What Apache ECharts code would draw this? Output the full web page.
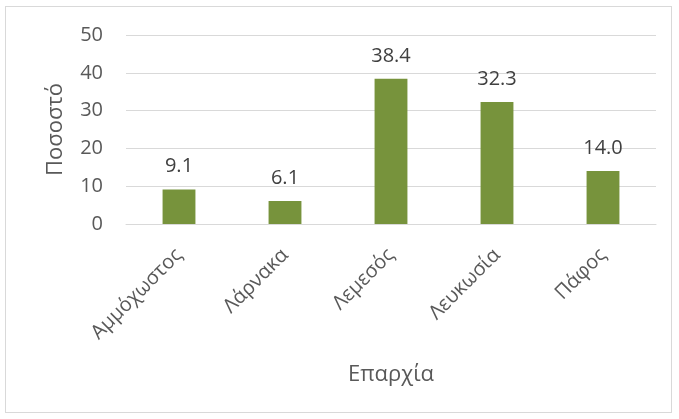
<!DOCTYPE html>
<html>
<head>
<meta charset="utf-8">
<script src="https://cdn.jsdelivr.net/npm/echarts@6/dist/echarts.min.js"></script>
<style>
  html, body { margin: 0; padding: 0; background: #fff; }
  #frame { position: absolute; left: 5px; top: 6px; width: 667px; height: 407px; border: 1px solid #d9d9d9; box-sizing: border-box; }
  #chart { width: 679px; height: 419px; position: absolute; left: 0; top: 0; }
</style>
</head>
<body>
<div id="frame"></div>
<div id="chart"></div>
<script>
// Districts and their share (%)
const categories = ['Αμμόχωστος', 'Λάρνακα', 'Λεμεσός', 'Λευκωσία', 'Πάφος'];
const values = [9.1, 6.1, 38.4, 32.3, 14.0];
const yTicks = [0, 10, 20, 30, 40, 50];

const FONT = '"Open Sans", "Noto Sans", sans-serif';
const chart = echarts.init(document.getElementById('chart'), null, { renderer: 'canvas' });

chart.setOption({
  animation: false,
  textStyle: { fontFamily: FONT },
  grid: { left: 126, right: 23, top: 35, bottom: 195, containLabel: false },
  xAxis: {
    type: 'category',
    data: categories,
    name: 'Επαρχία',
    nameLocation: 'middle',
    nameGap: 140,
    nameTextStyle: { color: '#595959', fontSize: 22, fontFamily: FONT },
    axisLine: { show: true, lineStyle: { color: '#d9d9d9', width: 1 } },
    axisTick: { show: false },
    axisLabel: { rotate: 45, margin: 28, color: '#595959', fontSize: 20, fontFamily: FONT }
  },
  yAxis: {
    type: 'value',
    min: yTicks[0],
    max: yTicks[yTicks.length - 1],
    interval: 10,
    name: 'Ποσοστό',
    nameLocation: 'middle',
    nameGap: 59,
    nameRotate: 90,
    nameTextStyle: { color: '#595959', fontSize: 22, fontFamily: FONT },
    axisLine: { show: false },
    axisTick: { show: false },
    axisLabel: { margin: 23, color: '#595959', fontSize: 20, fontFamily: FONT },
    splitLine: { show: true, lineStyle: { color: '#d9d9d9', width: 1 } }
  },
  series: [{
    type: 'bar',
    data: values,
    barWidth: '31%',
    itemStyle: { color: '#77933c' },
    label: {
      show: true,
      position: 'top',
      distance: 13,
      color: '#404040',
      fontSize: 20,
      fontFamily: FONT,
      formatter: p => p.value.toFixed(1)
    }
  }]
});
</script>
</body>
</html>
